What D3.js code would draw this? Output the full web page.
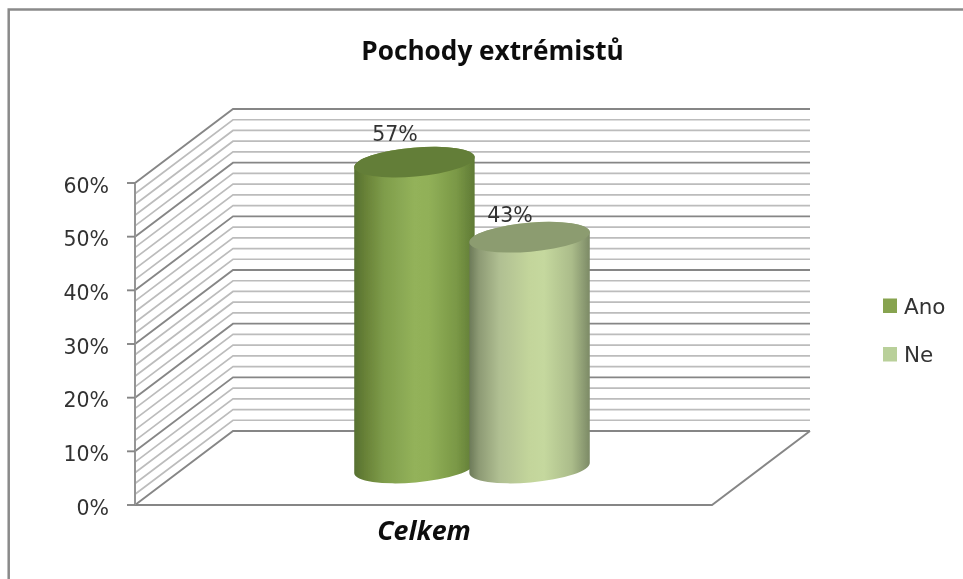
<!DOCTYPE html>
<html><head><meta charset="utf-8">
<script src="https://cdn.jsdelivr.net/npm/d3@7/dist/d3.min.js"></script>
<style>html,body{margin:0;padding:0;background:#fff}svg{display:block}text{font-family:"DejaVu Sans",sans-serif}</style>
</head><body><div id="c"></div>
<script>
const title = "Pochody extrémistů";
const category = "Celkem";
const seriesNames = ["Ano", "Ne"];
const seriesValues = [57, 43];
const tickValues = [0, 10, 20, 30, 40, 50, 60];
const minorTicks = d3.range(0, 61, 2);

const W = 963, H = 579;
const svg = d3.select("#c").append("svg").attr("width", W).attr("height", H);
const defs = svg.append("defs");
const soft = defs.append("filter").attr("id","soft").attr("x","-5%").attr("y","-5%").attr("width","110%").attr("height","110%");
soft.append("feGaussianBlur").attr("stdDeviation",0.5);
const softText = defs.append("filter").attr("id","softText").attr("x","-5%").attr("y","-10%").attr("width","110%").attr("height","120%");
softText.append("feGaussianBlur").attr("stdDeviation",0.35);

const y = d3.scaleLinear().domain([0, 60]).range([505, 183]);
const x = d3.scaleLinear().domain([0, 1]).range([135, 712]);
const depthX = 98, depthY = -74;
const xBand = d3.scaleBand().domain(seriesNames).range([305, 541]).paddingInner(-0.05);

svg.append("path").attr("d", `M8.7 579V9.5H${W}`).attr("fill","none").attr("stroke","#8a8a8a").attr("stroke-width",2.5);

const grid = svg.append("g").attr("filter","url(#soft)").attr("fill","none");
minorTicks.forEach(v => {
  const major = v % 10 === 0;
  grid.append("path")
    .attr("d", d3.line()([[x(0), y(v)], [x(0)+depthX, y(v)+depthY], [x(1)+depthX, y(v)+depthY]]))
    .attr("stroke", major ? "#868686" : "#bcbcbc").attr("stroke-width", major ? 1.9 : 1.7);
});
grid.append("path").attr("d", d3.line()([[x(0), y(0)], [x(1), y(0)], [x(1)+depthX, y(0)+depthY]])).attr("stroke","#868686").attr("stroke-width",1.9);
grid.append("path").attr("d", d3.line()([[x(0), y(60)], [x(0), y(0)]])).attr("stroke","#959595").attr("stroke-width",2);
tickValues.forEach(v => grid.append("path").attr("d", d3.line()([[x(0)-8, y(v)], [x(0), y(v)]])).attr("stroke","#868686").attr("stroke-width",1.9));

svg.selectAll("text.tick").data(tickValues).join("text").attr("class","tick")
  .attr("x", 109).attr("y", d => y(d)+9.5).attr("text-anchor","end")
  .attr("font-size",20.5).attr("fill","#333").attr("filter","url(#softText)").text(d => d + "%");

const palettes = [
  {side:[[0,"#56702f"],[.1,"#698338"],[.25,"#7f9d4b"],[.5,"#93b25a"],[.62,"#91b058"],[.85,"#7a9846"],[1,"#5f7a35"]], top:"#647e38", swatch:"#87a34f"},
  {side:[[0,"#6c7a58"],[.08,"#8d9a74"],[.25,"#b0bf92"],[.5,"#c3d59b"],[.62,"#c5d89e"],[.85,"#abbc8a"],[1,"#7c8a66"]], top:"#8c9c70", swatch:"#b9d09a"}
];
palettes.forEach((p,i)=>{
  const g = defs.append("linearGradient").attr("id","g"+i);
  p.side.forEach(([o,c])=>g.append("stop").attr("offset",o).attr("stop-color",c));
});

const tilt = -5, ry = 14.5;
const labelDy = [21, 15.5];
const bars = svg.append("g").attr("filter","url(#soft)");
const labels = [];
[0,1].forEach(i => {
  const name = seriesNames[i], v = seriesValues[i];
  const x0 = xBand(name)+depthX/2, bw = xBand.bandwidth(), rx = bw/2, cx = x0+rx;
  const yb = y(0)+depthY/2, yt = y(v)+depthY/2;
  const a = tilt*Math.PI/180, dx = rx*Math.cos(a), dy = rx*Math.sin(a);
  const ell = `A${rx} ${ry} ${tilt} 0 0`;
  const g = bars.append("g");
  g.append("path")
   .attr("d",`M${cx-dx} ${yt-dy}L${cx-dx} ${yb-dy}${ell} ${cx+dx} ${yb+dy}L${cx+dx} ${yt+dy}${ell} ${cx-dx} ${yt-dy}Z`)
   .attr("fill",`url(#g${i})`);
  g.append("ellipse").attr("cx",cx).attr("cy",yt).attr("rx",rx).attr("ry",ry)
   .attr("transform",`rotate(${tilt} ${cx} ${yt})`).attr("fill",palettes[i].top);
  labels[i] = {cx, yt, v, dy: labelDy[i]};
});
svg.selectAll("text.val").data(labels).join("text").attr("class","val")
  .attr("x",d=>d.cx-19.5).attr("y",d=>d.yt-d.dy).attr("text-anchor","middle")
  .attr("font-size",20.5).attr("fill","#333").attr("filter","url(#softText)").text(d=>d.v+"%");

svg.append("text").attr("x",492.5).attr("y",60).attr("text-anchor","middle")
  .style("font-family",'"Open Sans",sans-serif').attr("font-size",26.2).attr("font-weight",700).attr("fill","#111").attr("filter","url(#softText)").text(title);
svg.append("text").attr("x",424).attr("y",540).attr("text-anchor","middle")
  .style("font-family",'"Open Sans",sans-serif').attr("font-size",26.8).attr("font-weight",700).attr("font-style","italic").attr("fill","#111").attr("filter","url(#softText)").text(category);

const ly = d3.scalePoint().domain(seriesNames).range([305.5, 354]);
seriesNames.forEach((n,i)=>{
  svg.append("rect").attr("x",883).attr("y",ly(n)-7).attr("width",14).attr("height",14.5).attr("fill",palettes[i].swatch);
  svg.append("text").attr("x",904).attr("y",ly(n)+8).attr("font-size",21.5).attr("fill","#333").attr("filter","url(#softText)").text(n);
});
</script></body></html>
